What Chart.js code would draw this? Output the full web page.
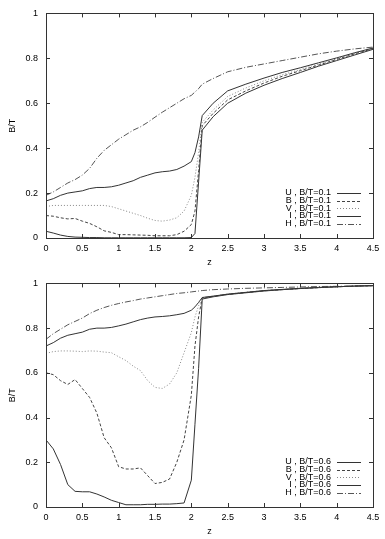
<!DOCTYPE html>
<html>
<head>
<meta charset="utf-8">
<script src="https://cdn.jsdelivr.net/npm/chart.js@4.4.1/dist/chart.umd.min.js"></script>
<style>
  body { margin: 0; background: #fff; }
  .panel { position: relative; width: 385px; }
</style>
</head>
<body>
<div class="panel" style="height:270px"><canvas id="topChart"></canvas></div>
<div class="panel" style="height:269px"><canvas id="bottomChart"></canvas></div>
<script>
const z = [0, 0.1, 0.2, 0.3, 0.4, 0.5, 0.6, 0.7, 0.8, 0.9, 1.0, 1.1, 1.2, 1.3, 1.4, 1.5, 1.6, 1.7, 1.8, 1.9, 2.0,
  2.05, 2.1, 2.15, 2.3, 2.5, 2.75, 3.0, 3.25, 3.5, 3.75, 4.0, 4.25, 4.5];

const xTicks = [0, 0.5, 1, 1.5, 2, 2.5, 3, 3.5, 4, 4.5];
const yTicks = [0, 0.2, 0.4, 0.6, 0.8, 1];
const bands = ['U', 'B', 'V', 'I', 'H'];

// B/T = 0.1
const u01 = [0.165, 0.175, 0.19, 0.2, 0.205, 0.21, 0.22, 0.225, 0.225, 0.228, 0.235, 0.245, 0.255, 0.27, 0.28, 0.29, 0.295, 0.298, 0.305, 0.32, 0.34,
  0.38, 0.45, 0.545, 0.6, 0.655, 0.685, 0.712, 0.737, 0.758, 0.78, 0.802, 0.825, 0.846];
const b01 = [0.1, 0.097, 0.09, 0.085, 0.087, 0.075, 0.065, 0.05, 0.032, 0.025, 0.015, 0.015, 0.014, 0.013, 0.012, 0.01, 0.01, 0.01, 0.015, 0.03, 0.06,
  0.12, 0.3, 0.5, 0.555, 0.615, 0.655, 0.69, 0.72, 0.745, 0.77, 0.795, 0.82, 0.843];
const v01 = [0.14, 0.145, 0.145, 0.145, 0.145, 0.145, 0.145, 0.145, 0.145, 0.14, 0.13, 0.12, 0.11, 0.1, 0.088, 0.078, 0.075, 0.08, 0.09, 0.12, 0.19,
  0.27, 0.38, 0.515, 0.57, 0.63, 0.668, 0.7, 0.727, 0.75, 0.775, 0.798, 0.822, 0.844];
const i01 = [0.03, 0.022, 0.013, 0.007, 0.004, 0.003, 0.002, 0.002, 0.001, 0.001, 0.001, 0.001, 0.001, 0.001, 0.001, 0.001, 0.001, 0.001, 0.001, 0.001, 0.002,
  0.02, 0.25, 0.48, 0.54, 0.6, 0.645, 0.68, 0.71, 0.737, 0.765, 0.79, 0.815, 0.84];
const h01 = [0.19, 0.205, 0.225, 0.245, 0.26, 0.28, 0.31, 0.355, 0.39, 0.415, 0.44, 0.46, 0.48, 0.495, 0.515, 0.538, 0.56, 0.58, 0.6, 0.62, 0.635,
  0.65, 0.665, 0.685, 0.71, 0.74, 0.76, 0.775, 0.79, 0.805, 0.82, 0.832, 0.842, 0.85];

// B/T = 0.6
const u06 = [0.72, 0.735, 0.755, 0.768, 0.775, 0.782, 0.795, 0.8, 0.8, 0.803, 0.81, 0.818, 0.828, 0.838, 0.845, 0.85, 0.852, 0.855, 0.86, 0.866, 0.88,
  0.895, 0.915, 0.937, 0.943, 0.952, 0.96, 0.968, 0.973, 0.978, 0.982, 0.985, 0.988, 0.99];
const b06 = [0.6, 0.592, 0.565, 0.548, 0.57, 0.53, 0.49, 0.42, 0.31, 0.265, 0.18, 0.17, 0.17, 0.175, 0.14, 0.105, 0.11, 0.125, 0.2, 0.3, 0.5,
  0.72, 0.85, 0.935, 0.942, 0.951, 0.959, 0.967, 0.972, 0.977, 0.981, 0.985, 0.988, 0.99];
const v06 = [0.687, 0.695, 0.698, 0.698, 0.697, 0.695, 0.698, 0.697, 0.693, 0.69, 0.672, 0.655, 0.63, 0.61, 0.565, 0.535, 0.53, 0.55, 0.6, 0.69, 0.78,
  0.85, 0.9, 0.936, 0.943, 0.952, 0.96, 0.968, 0.973, 0.978, 0.982, 0.985, 0.988, 0.99];
const i06 = [0.3, 0.26, 0.19, 0.1, 0.07, 0.068, 0.068, 0.058, 0.045, 0.03, 0.02, 0.01, 0.01, 0.01, 0.012, 0.012, 0.013, 0.013, 0.015, 0.018, 0.12,
  0.37, 0.62, 0.93, 0.94, 0.95, 0.958, 0.966, 0.972, 0.977, 0.981, 0.985, 0.988, 0.99];
const h06 = [0.75, 0.775, 0.795, 0.815, 0.83, 0.845, 0.865, 0.88, 0.892, 0.902, 0.91, 0.917, 0.923, 0.93, 0.935, 0.94, 0.945, 0.95, 0.955, 0.958, 0.962,
  0.964, 0.966, 0.968, 0.972, 0.975, 0.978, 0.98, 0.982, 0.984, 0.986, 0.987, 0.988, 0.99];

// gnuplot-ish line types: solid, dashed, dotted, solid, dash-dot
const lineStyles = [
  { color: '#333', dash: [] },
  { color: '#444', dash: [3, 2] },
  { color: '#888', dash: [1, 2] },
  { color: '#333', dash: [] },
  { color: '#555', dash: [6, 2, 1, 2] },
];

const FONT = '"Liberation Sans", Arial, sans-serif';
const FONT_SIZE = 9;

// box border, inward ticks, axis titles and the key, drawn gnuplot style
const gnuplotFrame = {
  id: 'gnuplotFrame',
  afterDraw(chart) {
    const { ctx, chartArea: a, scales } = chart;
    ctx.save();
    ctx.strokeStyle = '#333';
    ctx.lineWidth = 1;
    ctx.setLineDash([]);
    ctx.strokeRect(Math.round(a.left) + 0.5, Math.round(a.top) + 0.5,
      Math.round(a.right - a.left), Math.round(a.bottom - a.top));
    ctx.beginPath();
    xTicks.forEach((t) => {
      const x = Math.round(scales.x.getPixelForValue(t)) + 0.5;
      ctx.moveTo(x, a.bottom); ctx.lineTo(x, a.bottom - 4);
      ctx.moveTo(x, a.top); ctx.lineTo(x, a.top + 4);
    });
    yTicks.forEach((t) => {
      const y = Math.round(scales.y.getPixelForValue(t)) + 0.5;
      ctx.moveTo(a.left, y); ctx.lineTo(a.left + 4, y);
      ctx.moveTo(a.right, y); ctx.lineTo(a.right - 4, y);
    });
    ctx.stroke();

    ctx.fillStyle = '#000';
    ctx.font = `${FONT_SIZE}px ${FONT}`;
    ctx.textAlign = 'center';
    ctx.textBaseline = 'middle';
    ctx.fillText('z', (a.left + a.right) / 2, a.bottom + 25);
    ctx.save();
    ctx.translate(13, (a.top + a.bottom) / 2);
    ctx.rotate(-Math.PI / 2);
    ctx.fillText('B/T', 0, 0);
    ctx.restore();

    // key in the lower right corner
    chart.data.datasets.forEach((ds, i) => {
      const y = a.bottom - 45 + i * 7.65;
      ctx.textAlign = 'right';
      ctx.fillStyle = '#000';
      ctx.fillText(ds.label, 331, y);
      ctx.strokeStyle = ds.borderColor;
      ctx.setLineDash(ds.borderDash);
      ctx.beginPath();
      ctx.moveTo(337, Math.round(y) + 0.5);
      ctx.lineTo(361, Math.round(y) + 0.5);
      ctx.stroke();
    });
    ctx.restore();
  },
};

function makeChart(id, series, bt, padTop) {
  const ctx = document.getElementById(id).getContext('2d');
  return new Chart(ctx, {
    type: 'line',
    data: {
      datasets: series.map((vals, i) => ({
        label: `${bands[i]} , B/T=${bt}`,
        data: z.map((x, k) => ({ x, y: vals[k] })),
        borderColor: lineStyles[i].color,
        borderDash: lineStyles[i].dash,
        borderWidth: 1,
        pointRadius: 0,
        tension: 0,
        fill: false,
      })),
    },
    options: {
      responsive: true,
      maintainAspectRatio: false,
      animation: false,
      layout: { padding: { top: padTop, right: 12, left: 0, bottom: 0 } },
      plugins: {
        legend: { display: false },
        tooltip: { enabled: false },
      },
      scales: {
        x: {
          type: 'linear',
          min: 0,
          max: 4.5,
          grid: { display: false, drawTicks: false },
          border: { display: false },
          afterBuildTicks: (scale) => { scale.ticks = xTicks.map((v) => ({ value: v })); },
          afterFit: (scale) => { scale.height = 32; },
          ticks: {
            color: '#000',
            padding: 5,
            maxRotation: 0,
            autoSkip: false,
            font: { family: FONT, size: FONT_SIZE },
            callback: (value) => String(value),
          },
        },
        y: {
          min: 0,
          max: 1,
          grid: { display: false, drawTicks: false },
          border: { display: false },
          afterBuildTicks: (scale) => { scale.ticks = yTicks.map((v) => ({ value: v })); },
          afterFit: (scale) => { scale.width = 46; },
          ticks: {
            color: '#000',
            padding: 8,
            autoSkip: false,
            font: { family: FONT, size: FONT_SIZE },
            callback: (value) => String(value),
          },
        },
      },
    },
    plugins: [gnuplotFrame],
  });
}

makeChart('topChart', [u01, b01, v01, i01, h01], '0.1', 9);
makeChart('bottomChart', [u06, b06, v06, i06, h06], '0.6', 8);
</script>
</body>
</html>
